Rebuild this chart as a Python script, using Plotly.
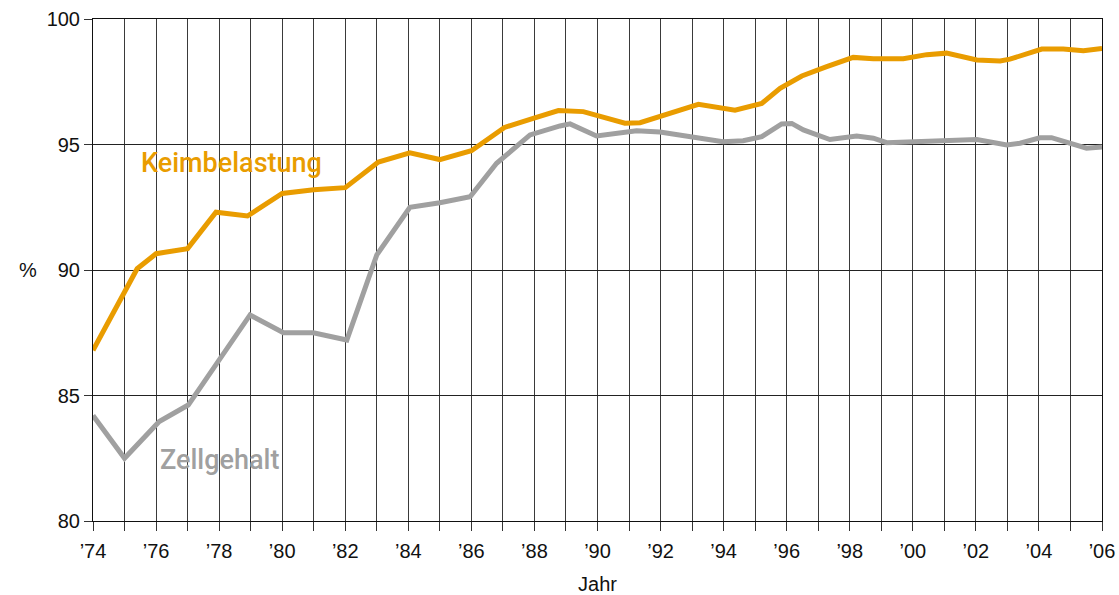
import plotly.graph_objects as go

# Keimbelastung (orange) – fractional year positions
keim_x = [1974.0, 1975.4, 1976.0, 1977.0, 1977.9, 1978.9, 1980.0, 1981.0, 1982.0, 1983.05,
          1984.05, 1985.0, 1986.0, 1986.6, 1987.05, 1987.96, 1988.76, 1989.55, 1990.18, 1990.87,
          1991.35, 1991.98, 1993.2, 1994.36, 1995.21, 1995.79, 1996.48, 1997.27, 1998.11, 1998.75,
          1999.7, 2000.44, 2001.07, 2002.03, 2002.77, 2003.08, 2004.09, 2004.77, 2005.41, 2006.0]
keim_y = [86.8, 90.05, 90.65, 90.85, 92.3, 92.15, 93.05, 93.2, 93.28, 94.3,
          94.67, 94.4, 94.75, 95.25, 95.68, 96.04, 96.35, 96.31, 96.08, 95.85,
          95.87, 96.12, 96.6, 96.37, 96.64, 97.24, 97.73, 98.1, 98.47, 98.42,
          98.42, 98.58, 98.64, 98.37, 98.33, 98.4, 98.8, 98.8, 98.74, 98.83]

# Zellgehalt (grey)
zell_x = [1974.0, 1975.0, 1976.1, 1977.02, 1978.98, 1980.04, 1980.99, 1982.05, 1983.0, 1984.05,
          1985.0, 1985.96, 1986.8, 1987.86, 1988.81, 1989.13, 1989.97, 1991.24, 1991.98, 1992.6,
          1993.24, 1993.98, 1994.62, 1995.21, 1995.84, 1996.16, 1996.53, 1997.37, 1998.22, 1998.75,
          1999.17, 2002.03, 2002.98, 2003.4, 2004.03, 2004.4, 2005.51, 2006.0]
zell_y = [84.2, 82.5, 83.96, 84.62, 88.21, 87.5, 87.5, 87.21, 90.6, 92.5,
          92.68, 92.92, 94.25, 95.38, 95.74, 95.82, 95.34, 95.55, 95.5, 95.38,
          95.25, 95.11, 95.15, 95.31, 95.82, 95.84, 95.58, 95.2, 95.34, 95.25,
          95.07, 95.2, 94.98, 95.05, 95.27, 95.27, 94.85, 94.9]

years = list(range(1974, 2007))
year_labels = [("\u2019%02d" % (y % 100)) if y % 2 == 0 else "" for y in years]
y_ticks = [80, 85, 90, 95, 100]

ORANGE = "#E99C00"
GREY = "#A0A0A0"
FONT = "Liberation Sans, Arial, sans-serif"
LABEL_FONT = "Roboto, Liberation Sans, Arial, sans-serif"

fig = go.Figure()
fig.add_trace(go.Scatter(x=zell_x, y=zell_y, mode="lines",
                         line=dict(color=GREY, width=5), showlegend=False))
fig.add_trace(go.Scatter(x=keim_x, y=keim_y, mode="lines",
                         line=dict(color=ORANGE, width=5), showlegend=False))

fig.add_annotation(x=1978.4, y=94.25, xref="x", yref="y", text="Keimbelastung",
                   showarrow=False, font=dict(family=LABEL_FONT, size=27, color=ORANGE, weight=500))
fig.add_annotation(x=1978.0, y=82.45, xref="x", yref="y", text="Zellgehalt",
                   showarrow=False, font=dict(family=LABEL_FONT, size=27, color=GREY, weight=500))
fig.add_annotation(x=-0.075, y=90, xref="paper", yref="y", text="%",
                   showarrow=False, font=dict(family=FONT, size=20, color="#111"))

fig.update_layout(
    width=1119, height=595,
    margin=dict(l=93, r=17, t=19, b=74, autoexpand=False),
    paper_bgcolor="white", plot_bgcolor="white",
    font=dict(family=FONT, size=20, color="#111"),
    xaxis=dict(range=[1974, 2006], tickmode="array", tickvals=years, ticktext=year_labels,
               showgrid=True, gridcolor="#3a3a3a", gridwidth=1,
               ticks="outside", ticklen=9, tickcolor="#333", tickwidth=1,
               showline=True, linecolor="#111", linewidth=1, mirror=True,
               zeroline=False, automargin=False, ticklabelstandoff=3,
               title=dict(text="Jahr", font=dict(size=20), standoff=20)),
    yaxis=dict(range=[80, 100], tickmode="array", tickvals=y_ticks,
               showgrid=True, gridcolor="#222", gridwidth=1,
               ticks="outside", ticklen=8, tickcolor="#333", tickwidth=1,
               showline=True, linecolor="#111", linewidth=1, mirror=True,
               zeroline=False, automargin=False),
)

# remove the browser's default 8px page margin so the figure fills the window
fig.write_html("out.html",
               config={"displayModeBar": False},
               post_script="document.body.style.margin='0';document.body.style.overflow='hidden';")
